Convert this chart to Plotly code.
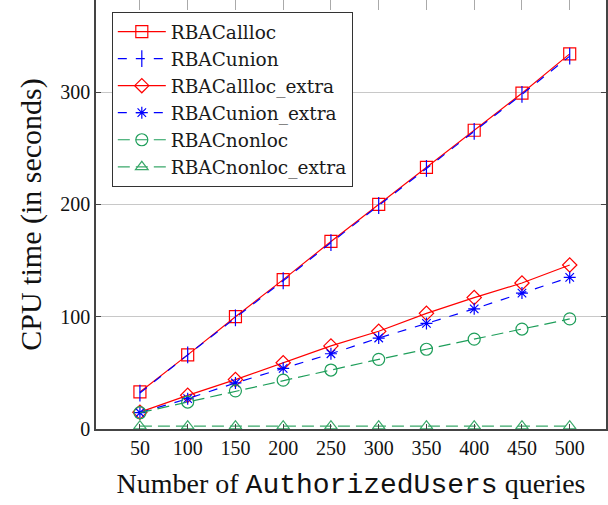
import plotly.graph_objects as go

x_vals = [50, 100, 150, 200, 250, 300, 350, 400, 450, 500]
rbac_allloc = [33, 66, 100, 133, 167, 200, 233, 266, 299, 334]
rbac_union = [32, 66, 99, 132, 166, 199, 232, 265, 298, 332]
rbac_allloc_extra = [15, 30, 44, 59, 74, 87, 103, 117, 130, 146]
rbac_union_extra = [14.5, 27, 41, 54, 67, 81, 94, 107, 121, 135]
rbac_nonloc = [14.5, 24, 34, 43.5, 52.5, 62, 71, 80, 89, 98]
rbac_nonloc_extra = [2.5, 2.5, 2.5, 2.5, 2.5, 2.5, 2.5, 2.5, 2.5, 2.5]
y_ticks = [0, 100, 200, 300]

RED = "#ff0000"
BLUE = "#0000ff"
GREEN = "#1e9e5a"
GREEN2 = "#3aa86a"

series = [
    ("RBACallloc", rbac_allloc, RED, "solid", "square-open", 12),
    ("RBACunion", rbac_union, BLUE, "dash", "line-ns-open", 12),
    ("RBACallloc_extra", rbac_allloc_extra, RED, "solid", "diamond-open", 11),
    ("RBACunion_extra", rbac_union_extra, BLUE, "dash", "asterisk-open", 10),
    ("RBACnonloc", rbac_nonloc, GREEN, "12px,6px", "circle-open", 12),
    ("RBACnonloc_extra", rbac_nonloc_extra, GREEN2, "12px,6px", "triangle-up-open", 11),
]

fig = go.Figure()
for name, ys, col, dash, sym, size in series:
    fig.add_trace(go.Scatter(
        x=x_vals, y=ys, name=name, mode="lines+markers",
        line=dict(color=col, width=1.2, dash=dash),
        marker=dict(symbol=sym, size=size, color=col, line=dict(color=col, width=1.2)),
    ))

# invisible trace for top tick decoration axis
fig.add_trace(go.Scatter(x=x_vals, y=[None]*len(x_vals), xaxis="x2", showlegend=False,
                         hoverinfo="skip"))

font_serif = "Liberation Serif"
legend_font = "DejaVu Serif"
mono = "Liberation Mono"

fig.update_layout(
    width=608, height=505,
    margin=dict(l=96, r=2, t=0, b=76),
    paper_bgcolor="white", plot_bgcolor="white",
    font=dict(family=font_serif, size=20, color="#111"),
    showlegend=True,
    legend=dict(
        x=0.031, y=0.972, xanchor="left", yanchor="top",
        bgcolor="white", bordercolor="#333", borderwidth=1,
        font=dict(size=18.5, family=legend_font, color="#1a1a1a"), tracegroupgap=0, itemwidth=48,
    ),
    xaxis=dict(
        range=[4, 538], tickvals=x_vals, ticktext=[str(v) for v in x_vals],
        showgrid=False, zeroline=False, automargin=False,
        showline=True, linecolor="#444", linewidth=1.5,
        ticks="inside", ticklen=5, tickcolor="#444",
        tickfont=dict(size=20, family=font_serif),
        title=dict(text=f'Number of <span style="font-family:{mono}">AuthorizedUsers</span> queries',
                   font=dict(size=28, family=font_serif), standoff=16),
    ),
    xaxis2=dict(
        overlaying="x", side="top", range=[4, 538], tickvals=x_vals,
        showticklabels=False, ticks="inside", ticklen=10, tickcolor="#aaaaaa",
        showgrid=False, showline=False, zeroline=False, automargin=False,
    ),
    yaxis=dict(
        range=[0, 382], tickvals=y_ticks, ticktext=[str(v) for v in y_ticks],
        showgrid=True, gridcolor="#c8c8c8", gridwidth=1, zeroline=False,
        showline=True, linecolor="#444", linewidth=1.5, mirror="ticks",
        ticks="inside", ticklen=5, tickcolor="#444", automargin=False,
        tickfont=dict(size=20, family=font_serif),
        title=dict(text="CPU time (in seconds)", font=dict(size=30, family=font_serif), standoff=10),
    ),
)

fig.write_html("out.html", config={"displayModeBar": False},
               post_script="document.body.style.margin='0';")
